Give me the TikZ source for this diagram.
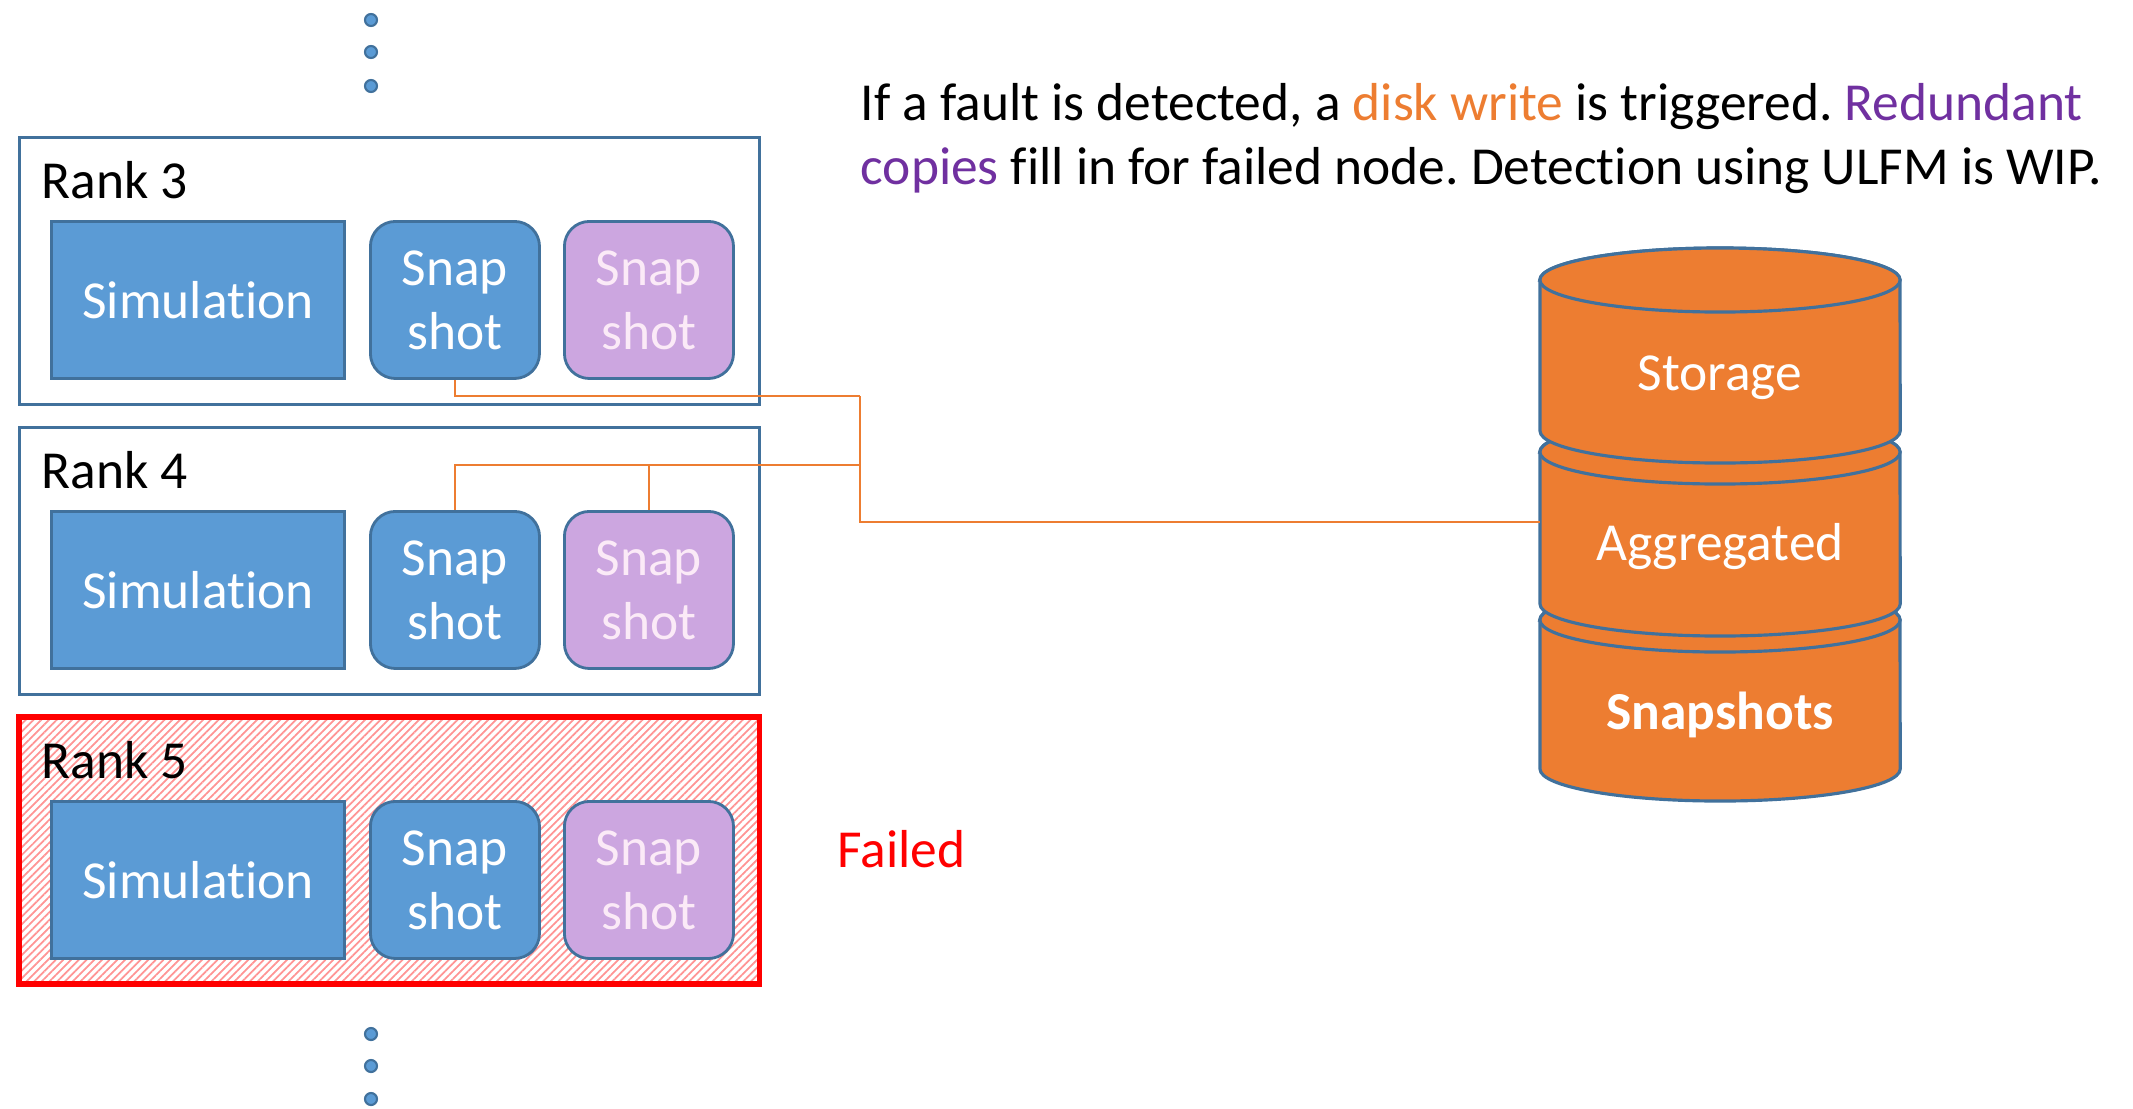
\documentclass[tikz,border=0pt]{standalone}
\usepackage{fontspec}
\setmainfont{Carlito}[Ligatures={NoCommon}]
\frenchspacing
\usetikzlibrary{patterns.meta}

\definecolor{simblue}{HTML}{5B9BD5}
\definecolor{edgeblue}{HTML}{41719C}
\definecolor{lilac}{HTML}{CCA6E0}
\definecolor{lilactext}{HTML}{FBEAF7}
\definecolor{storeorange}{HTML}{ED7D31}
\definecolor{redund}{HTML}{7030A0}
\definecolor{failred}{HTML}{FF0000}

\begin{document}
\begin{tikzpicture}[x=0.01cm,y=0.01cm,
  every node/.style={font=\fontsize{15.2}{18.2}\selectfont},
  rankbox/.style={draw=edgeblue, line width=0.8pt, minimum width=7.4cm,
    minimum height=2.67cm, anchor=north west, inner sep=0pt},
  failbox/.style={rankbox, draw=failred, line width=1.6pt,
    pattern={Lines[angle=45,distance=1.55pt,line width=0.5pt]},
    pattern color=failred!42},
  simbox/.style={draw=edgeblue, line width=0.8pt, fill=simblue, text=white,
    minimum width=2.93cm, minimum height=1.57cm, anchor=north west, inner sep=0pt},
  snapbox/.style={draw=edgeblue, line width=0.8pt, rounded corners=0.25cm,
    align=center, minimum width=1.69cm, minimum height=1.57cm,
    anchor=north west, inner sep=0pt},
  snapown/.style={snapbox, fill=simblue, text=white},
  snapcopy/.style={snapbox, fill=lilac, text=lilactext},
  ranklabel/.style={anchor=base west, inner sep=0pt, text=black},
  link/.style={draw=storeorange, line width=0.6pt},
  dot/.style={circle, fill=simblue, draw=edgeblue, line width=0.6pt,
    minimum size=0.12cm, inner sep=0pt},
  seg/.style={fill=storeorange, draw=edgeblue, line width=0.9pt},
  segtext/.style={text=white, inner sep=0pt}
]
\useasboundingbox (0,0) rectangle (2133,-1108);

% continuation dots above and below the ranks
\node[dot] (up1) at (371,-20) {};
\node[dot] (up2) at (371,-52) {};
\node[dot] (up3) at (371,-86) {};
\node[dot] (dn1) at (371,-1034) {};
\node[dot] (dn2) at (371,-1066) {};
\node[dot] (dn3) at (371,-1099) {};

% rank frames
\node[rankbox] (box3) at (18,-136) {};
\node[rankbox] (box4) at (18,-426) {};
\node[failbox] (box5) at (18,-716) {};

% contents of each rank
\foreach \r/\t in {3/136,4/426,5/716}{
  \node[ranklabel] (lab\r) at (41,-\t-62) {Rank \r};
  \node[simbox] (sim\r) at (50,-\t-84) {Simulation};
  \node[snapown] (sb\r) at (369,-\t-84) {Snap\\shot};
  \node[snapcopy] (sp\r) at (563,-\t-84) {Snap\\shot};
}

\node[anchor=base west, inner sep=0pt, text=failred] (failed) at (837,-867) {Failed};

% explanation text
\node[anchor=base west, inner sep=0pt] (note1) at (860,-120)
  {If a fault is detected, a \textcolor{storeorange}{disk write} is triggered. \textcolor{redund}{Redundant}};
\node[anchor=base west, inner sep=0pt] (note2) at (860,-184)
  {\textcolor{redund}{copies} fill in for failed node. Detection using ULFM is WIP.};

% stacked storage cylinder, drawn bottom segment first
\path[seg] (1540,-620) -- (1540,-769)
  arc[start angle=180,end angle=360,x radius=1.8cm,y radius=0.32cm]
  -- (1900,-620)
  arc[start angle=0,end angle=180,x radius=1.8cm,y radius=0.32cm] -- cycle;
\draw[seg] (1720,-620) ellipse[x radius=1.8cm,y radius=0.32cm];

\path[seg] (1540,-452) -- (1540,-604)
  arc[start angle=180,end angle=360,x radius=1.8cm,y radius=0.32cm]
  -- (1900,-452)
  arc[start angle=0,end angle=180,x radius=1.8cm,y radius=0.32cm] -- cycle;
\draw[seg] (1720,-452) ellipse[x radius=1.8cm,y radius=0.32cm];

\path[seg] (1540,-280) -- (1540,-431)
  arc[start angle=180,end angle=360,x radius=1.8cm,y radius=0.32cm]
  -- (1900,-280)
  arc[start angle=0,end angle=180,x radius=1.8cm,y radius=0.32cm] -- cycle;
\draw[seg] (1720,-280) ellipse[x radius=1.8cm,y radius=0.32cm];

\node[segtext] (storage) at (1720,-378) {Storage};
\node[segtext] (aggr) at (1720,-547) {Aggregated};
\node[segtext, font=\fontsize{15.2}{18.2}\selectfont\bfseries] (snaps) at (1720,-715) {Snapshots};

% connectors from the snapshots to the storage
\coordinate (busA) at (860,-396);
\coordinate (busB) at (860,-465);
\coordinate (cylW) at (1540,-522);
\draw[link] (sb3.south) |- (busA);
\draw[link] (busA) |- (cylW);
\draw[link] (sb4.north) |- (busB);
\draw[link] (sp4.north) -- (sp4.north |- busB);
\end{tikzpicture}
\end{document}
